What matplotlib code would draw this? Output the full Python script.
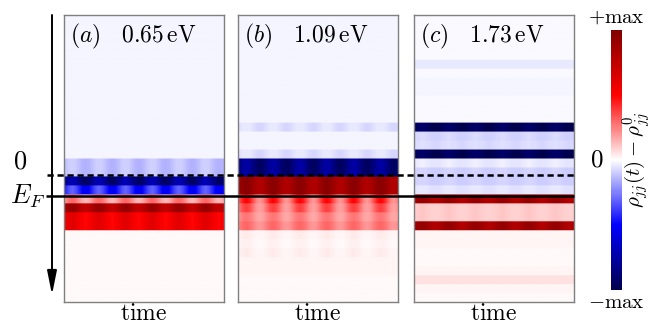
import numpy as np
import matplotlib.pyplot as plt

plt.rcParams['mathtext.fontset'] = 'cm'
plt.rcParams['font.family'] = 'serif'
plt.rcParams['font.serif'] = ['DejaVu Serif']

# === data: rho_jj(t) - rho0_jj, rows = levels (top -> bottom), normalised to max ===
nrows = 32
labels = [r'$(a)\quad 0.65\,\mathrm{eV}$', r'$(b)\quad 1.09\,\mathrm{eV}$', r'$(c)\quad 1.73\,\mathrm{eV}$']

# mean value of each row
mean_a = [-0.02]*16 + [-0.12, -0.12, -0.82, -0.42, 0.22, 0.82, 0.55, 0.55] + [0.01]*8
mean_b = ([-0.02]*12 + [-0.06, -0.02, -0.02, -0.06, -0.85, -0.85, 0.88, 0.88,
                        0.35, 0.28, 0.22, 0.25, 0.03, 0.02, 0.03, 0.02, 0.02, 0.01, 0.01, 0.01])
mean_c = ([-0.01]*5 + [-0.04, -0.01, -0.02, -0.02, -0.01, -0.01, -0.01,
                       -0.96, -0.08, -0.07, -0.96, -0.04, -0.09, -0.09, -0.05,
                       0.86, 0.10, 0.10, 0.86, 0.02, 0.02, 0.01, 0.01, 0.02, 0.06, 0.02, 0.01])
# oscillation amplitude of each row
amp_a = [0.0]*16 + [0.03, 0.03, 0.12, 0.12, 0.08, 0.08, 0.06, 0.06] + [0.0]*8
amp_b = ([0.0]*12 + [0.02, 0.0, 0.0, 0.02, 0.1, 0.1, 0.08, 0.08,
                     0.15, 0.1, 0.05, 0.05, 0.01, 0.01, 0.01, 0.0, 0.0, 0.0, 0.0, 0.0])
amp_c = [0.0]*12 + [0.04, 0.01, 0.01, 0.04] + [0.01]*4 + [0.06, 0.01, 0.01, 0.06] + [0.0]*8

# periodic pattern along the time axis (read from the stripes)
osc = [0.0, 0.7, 1.0, 0.7, 0.0, -0.7, -1.0, -0.7,
       0.0, 0.7, 1.0, 0.7, 0.0, -0.7, -1.0, -0.7,
       0.0, 0.7, 1.0, 0.7, 0.0, -0.7, -1.0, -0.7,
       0.0, 0.7, 1.0, 0.7, 0.0, -0.7, -1.0, -0.7,
       0.0, 0.7, 1.0, 0.7, 0.0, -0.7, -1.0, -0.7,
       0.0, 0.7, 1.0, 0.7, 0.0, -0.7, -1.0, -0.7]

e_zero = 17.85   # level "0"  (row units)
e_fermi = 20.2   # Fermi level (row units)

W, H = 654, 329
fig = plt.figure(figsize=(W/100, H/100), dpi=100)

lefts = [64, 238, 414]
pw, ptop, pbot = 160, 15, 302
means = [mean_a, mean_b, mean_c]
amps = [amp_a, amp_b, amp_c]

for i in range(3):
    ax = fig.add_axes([lefts[i]/W, 1 - pbot/H, pw/W, (pbot - ptop)/H])
    m = np.array(means[i])[:, None]
    a = np.array(amps[i])[:, None]
    z = m + a*np.array(osc)[None, :]
    z = np.repeat(z, 10, axis=0)
    im = ax.imshow(z, cmap='seismic', vmin=-1, vmax=1, aspect='auto',
                   interpolation='bilinear', extent=(0, 1, nrows, 0))
    ax.set_xticks([])
    ax.set_yticks([])
    for s in ax.spines.values():
        s.set_color('#7f7f7f')
        s.set_linewidth(1.0)
    ax.text(0.04, 0.975, labels[i], transform=ax.transAxes, fontsize=17,
            va='top', ha='left')
    ax.set_xlabel(r'$\mathrm{time}$', fontsize=17, labelpad=0)

# overlay with energy arrow and reference levels
ov = fig.add_axes([0, 1 - pbot/H, 1, (pbot - ptop)/H], zorder=10)
ov.set_xlim(0, W)
ov.set_ylim(nrows, 0)
ov.axis('off')
ov.patch.set_alpha(0)
ov.hlines(e_zero, 47, 574, colors='k', linestyles=(0, (2.5, 1.5)), lw=1.8)
ov.hlines(e_fermi, 46, 574, colors='k', lw=1.8)
ov.annotate('', xy=(52, 31.2), xytext=(52, 0.0),
            arrowprops=dict(arrowstyle='-|>,head_length=0.9,head_width=0.18',
                            color='k', lw=1.4,
                            mutation_scale=16, shrinkA=0, shrinkB=0))
ov.text(20, e_zero - 0.2, r'$0$', fontsize=19, ha='center', va='bottom')
ov.text(28, e_fermi, r'$E_F$', fontsize=19, ha='center', va='center')

# colorbar
cax = fig.add_axes([611/W, 1 - 290/H, 11/W, 260/H])
cb = fig.colorbar(im, cax=cax)
cb.outline.set_visible(False)
cb.set_ticks([])
cax.text(0.5, 1.012, r'$+\mathrm{max}$', transform=cax.transAxes, ha='center',
         va='bottom', fontsize=15)
cax.text(0.5, -0.012, r'$-\mathrm{max}$', transform=cax.transAxes, ha='center',
         va='top', fontsize=15)
cax.text(-0.7, 0.5, r'$0$', transform=cax.transAxes, ha='right', va='center',
         fontsize=18)
cax.text(2.3, 0.5, r'$\rho_{jj}(t)-\rho^{0}_{jj}$', transform=cax.transAxes,
         rotation=90, ha='center', va='center', fontsize=15)

fig.savefig('out.png', dpi=100)
